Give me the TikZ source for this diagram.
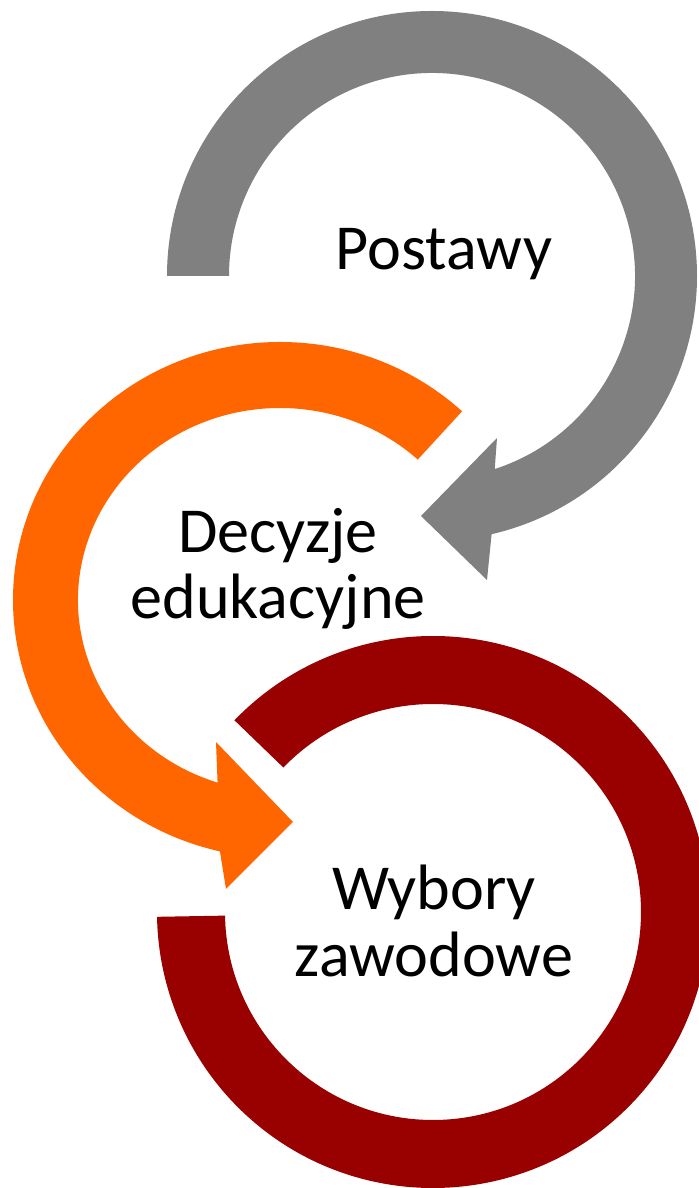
\documentclass[tikz,border=0pt]{standalone}
\usepackage{fontspec}
\setmainfont{Carlito}
\usetikzlibrary{positioning,calc}

\definecolor{arcgray}{RGB}{128,128,128}
\definecolor{arcorange}{RGB}{255,102,0}
\definecolor{arcred}{RGB}{153,0,0}

\tikzset{
  arctext/.style={font=\fontsize{36.5}{38}\selectfont, align=center, inner sep=0pt}
}

\begin{document}
\begin{tikzpicture}[x=0.02cm, y=0.02cm]
\useasboundingbox (0,0) rectangle (698,1188);

\coordinate (gc) at (432,912);
\coordinate (oc) at (280,588);
\coordinate (rc) at (433,276);

% gray arrow
\fill[arcgray] ($(gc)+(180:265)$) arc[start angle=180, end angle=-77, radius=265]
  -- (487,608) -- (421,672) -- (497,750)
  -- ($(gc)+(-72:203)$) arc[start angle=-72, end angle=180, radius=203] -- cycle;

% orange arrow
\fill[arcorange] ($(oc)+(47:267 and 258)$) arc[start angle=47, end angle=257, x radius=267, y radius=258]
  -- (226,299) -- (293,366) -- (216,446)
  -- ($(oc)+(252:202 and 192)$) arc[start angle=252, end angle=47, x radius=202, y radius=192] -- cycle;

% red ring
\fill[arcred] ($(rc)+(136:276)$) arc[start angle=136, end angle=-179, radius=276]
  -- ($(rc)+(-179:208)$) arc[start angle=-179, end angle=136, radius=208] -- cycle;

\node[arctext] (postawy) at (444,934) {Postawy};
\node[arctext] (decyzje) at (278,619) {Decyzje\\edukacyjne};
\node[arctext] (wybory) at (434,267) {Wybory\\zawodowe};

\end{tikzpicture}
\end{document}
